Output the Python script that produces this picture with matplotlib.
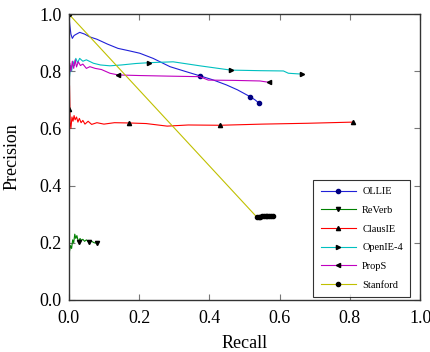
import matplotlib
matplotlib.use("Agg")
import matplotlib.pyplot as plt

plt.rcParams['font.family'] = ['Liberation Serif', 'DejaVu Serif']
plt.rcParams['mathtext.fontset'] = 'stix'

# ---- data ----
ollie_recall = [0.0, 0.003, 0.006, 0.010, 0.015, 0.022, 0.031, 0.045, 0.060, 0.080, 0.110, 0.140,
                0.170, 0.202, 0.240, 0.288, 0.330, 0.373, 0.410, 0.449, 0.480, 0.516, 0.530, 0.542]
ollie_prec = [1.0, 0.96, 0.93, 0.915, 0.925, 0.93, 0.936, 0.93, 0.92, 0.912, 0.895, 0.88,
              0.872, 0.863, 0.845, 0.816, 0.80, 0.784, 0.77, 0.752, 0.735, 0.711, 0.70, 0.688]
ollie_marks = [17, 21, 23]

reverb_recall = [0.0, 0.002, 0.005, 0.008, 0.011, 0.014, 0.017, 0.020, 0.023, 0.026, 0.028,
                 0.032, 0.036, 0.040, 0.045, 0.050, 0.058, 0.065, 0.072, 0.081]
reverb_prec = [0.10, 0.17, 0.19, 0.18, 0.21, 0.20, 0.23, 0.215, 0.225, 0.21, 0.204,
               0.215, 0.208, 0.212, 0.205, 0.21, 0.202, 0.205, 0.20, 0.198]
reverb_marks = [10, 16, 19]

clausie_recall = [0.0, 0.002, 0.004, 0.006, 0.009, 0.012, 0.015, 0.018, 0.022, 0.026, 0.030,
                  0.035, 0.040, 0.046, 0.055, 0.065, 0.08, 0.10, 0.13, 0.172, 0.22, 0.28,
                  0.34, 0.43, 0.55, 0.68, 0.808]
clausie_prec = [0.667, 0.75, 0.62, 0.60, 0.64, 0.625, 0.645, 0.63, 0.64, 0.622, 0.635,
                0.62, 0.628, 0.615, 0.625, 0.614, 0.62, 0.615, 0.62, 0.619, 0.617, 0.608,
                0.612, 0.611, 0.615, 0.618, 0.622]
clausie_marks = [0, 19, 23, 26]

openie_recall = [0.0, 0.002, 0.005, 0.008, 0.012, 0.016, 0.020, 0.025, 0.031, 0.040, 0.050,
                 0.070, 0.090, 0.117, 0.150, 0.190, 0.229, 0.297, 0.373, 0.461, 0.544, 0.611,
                 0.625, 0.663]
openie_prec = [0.79, 0.78, 0.82, 0.80, 0.835, 0.82, 0.845, 0.83, 0.845, 0.835, 0.84,
               0.828, 0.822, 0.819, 0.822, 0.827, 0.830, 0.833, 0.819, 0.804, 0.802, 0.801,
               0.793, 0.79]
openie_marks = [16, 19, 23]

props_recall = [0.0, 0.003, 0.006, 0.010, 0.014, 0.018, 0.022, 0.027, 0.033, 0.040, 0.050,
                0.060, 0.075, 0.093, 0.117, 0.141, 0.20, 0.28, 0.373, 0.397, 0.47, 0.544, 0.571]
props_prec = [0.80, 0.828, 0.80, 0.835, 0.81, 0.84, 0.815, 0.833, 0.82, 0.825, 0.81,
              0.816, 0.81, 0.806, 0.793, 0.787, 0.785, 0.783, 0.781, 0.769, 0.768, 0.766, 0.761]
props_marks = [15, 22]

stanford_recall = [0.0, 0.535, 0.54, 0.545, 0.55, 0.555, 0.56, 0.565, 0.57, 0.575, 0.58]
stanford_prec = [1.0, 0.29, 0.29, 0.291, 0.292, 0.293, 0.293, 0.294, 0.294, 0.295, 0.295]

ticks = [0.0, 0.2, 0.4, 0.6, 0.8, 1.0]
tick_labels = ["0.0", "0.2", "0.4", "0.6", "0.8", "1.0"]

fig = plt.figure(figsize=(4.30, 3.52), dpi=100)
ax = fig.add_axes([0.160, 0.148, 0.817, 0.812])

lw = 0.8
ms = 3.0
ax.plot(ollie_recall, ollie_prec, color='#2020d8', lw=lw, marker='o', markersize=ms,
        markevery=ollie_marks, mfc='#000080', mec='#000080', label='OLLIE')
ax.plot(reverb_recall, reverb_prec, color='#008000', lw=lw, marker='v', markersize=ms,
        markevery=reverb_marks, mfc='black', mec='black', label='ReVerb')
ax.plot(clausie_recall, clausie_prec, color='#ff0000', lw=lw, marker='^', markersize=ms,
        markevery=clausie_marks, mfc='black', mec='black', label='ClausIE')
ax.plot(openie_recall, openie_prec, color='#00c0c0', lw=lw, marker='>', markersize=ms,
        markevery=openie_marks, mfc='black', mec='black', label='OpenIE-4')
ax.plot(props_recall, props_prec, color='#c000c0', lw=lw, marker='<', markersize=ms,
        markevery=props_marks, mfc='black', mec='black', label='PropS')
ax.plot(stanford_recall, stanford_prec, color='#c0c000', lw=lw, marker='o', markersize=ms,
        mfc='black', mec='black', label='Stanford')

ax.set_xlim(0, 1)
ax.set_ylim(0, 1)
ax.set_xticks(ticks)
ax.set_xticklabels(tick_labels)
ax.set_yticks(ticks)
ax.set_yticklabels(tick_labels)
ax.tick_params(direction='in', top=True, right=True, length=4, width=0.8,
               color='#777777', labelsize=13)
ax.tick_params(axis='x', pad=7)
ax.tick_params(axis='y', pad=5)
for s in ax.spines.values():
    s.set_linewidth(1.0)
    s.set_color('#333333')

ax.set_xlabel('Recall', fontsize=13, labelpad=6)
ax.set_ylabel('Precision', fontsize=13, labelpad=14)

leg = ax.legend(loc='lower right', bbox_to_anchor=(0.972, 0.01), fontsize=7.5,
                fancybox=False, frameon=True, edgecolor='black', handlelength=3.4,
                borderpad=0.7, labelspacing=0.9, handletextpad=0.6, borderaxespad=0)
leg.get_frame().set_linewidth(0.8)

fig.savefig('out.png', dpi=100)
